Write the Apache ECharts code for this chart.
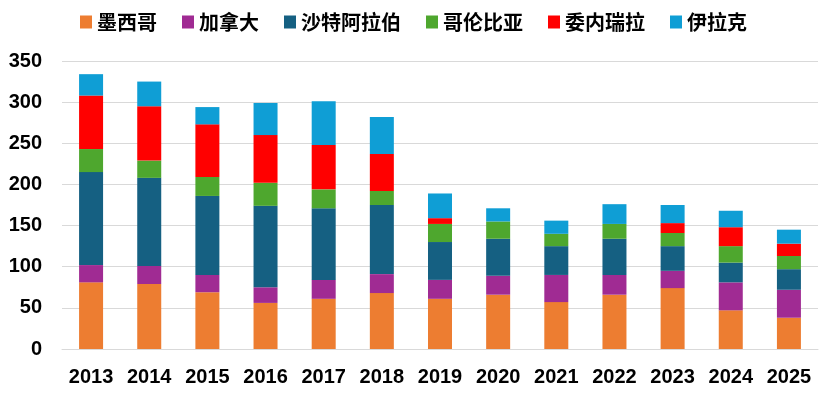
<!DOCTYPE html>
<html>
<head>
<meta charset="utf-8">
<script src="https://cdn.jsdelivr.net/npm/echarts@6/dist/echarts.min.js"></script>
<style>
  html, body { margin: 0; padding: 0; background: #fff; }
  #chart { width: 827px; height: 396px; }
</style>
</head>
<body>
<div id="chart"></div>
<script>
var years = ['2013', '2014', '2015', '2016', '2017', '2018', '2019', '2020', '2021', '2022', '2023', '2024', '2025'];
var mexico    = [81, 79, 69, 56, 61, 68, 61, 66, 57, 66, 74, 47, 38];
var canada    = [21, 22, 21, 19, 23, 23, 23, 23, 33, 24, 21, 34, 34];
var saudi     = [113, 107, 96, 99, 87, 84, 46, 45, 35, 44, 30, 24, 25];
var colombia  = [28, 21, 23, 28, 23, 17, 22, 21, 15, 18, 16, 20, 16];
var venezuela = [65, 66, 64, 58, 54, 45, 7, 0, 0, 0, 12, 23, 15];
var iraq      = [26, 30, 21, 39, 53, 45, 30, 16, 16, 24, 22, 20, 17];

var names = ['墨西哥', '加拿大', '沙特阿拉伯', '哥伦比亚', '委内瑞拉', '伊拉克'];
var colors = ['#ED7D31', '#A02B93', '#156082', '#4EA72E', '#FF0000', '#0F9ED5'];
var values = [mexico, canada, saudi, colombia, venezuela, iraq];

var chart = echarts.init(document.getElementById('chart'));
chart.setOption({
  animation: false,
  color: colors,
  legend: {
    top: 7,
    left: 'center',
    itemWidth: 12,
    itemHeight: 13,
    itemGap: 25,
    itemTextGap: 3,
    icon: 'rect',
    textStyle: {
      fontFamily: 'Noto Sans CJK SC',
      fontWeight: 'bold',
      fontSize: 20,
      color: '#000'
    },
    data: names
  },
  grid: { left: 62, right: 9, top: 61, bottom: 47 },
  xAxis: {
    type: 'category',
    data: years,
    axisTick: { show: false },
    axisLine: { lineStyle: { color: '#d9d9d9', width: 1 } },
    axisLabel: {
      margin: 18,
      fontFamily: 'Liberation Sans',
      fontWeight: 'bold',
      fontSize: 20,
      color: '#000'
    }
  },
  yAxis: {
    type: 'value',
    min: 0,
    max: 350,
    interval: 50,
    axisLine: { show: false },
    axisTick: { show: false },
    splitLine: { lineStyle: { color: '#d9d9d9', width: 1 } },
    axisLabel: {
      margin: 20,
      fontFamily: 'Liberation Sans',
      fontWeight: 'bold',
      fontSize: 20,
      color: '#000'
    }
  },
  series: names.map(function (n, i) {
    return {
      name: n,
      type: 'bar',
      stack: 'total',
      barWidth: 24,
      data: values[i]
    };
  })
});
</script>
</body>
</html>
